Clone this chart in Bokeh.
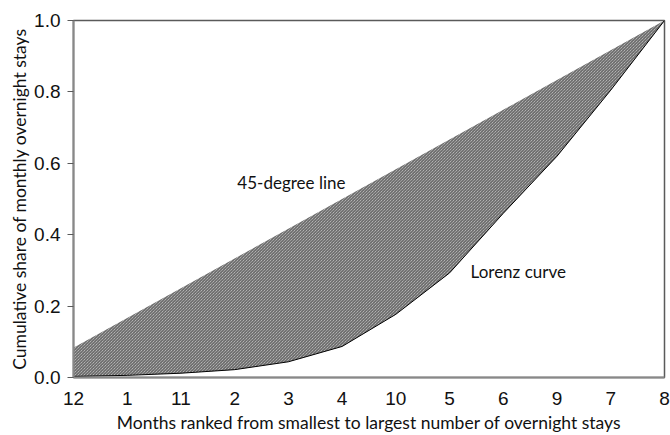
from bokeh.plotting import figure
from bokeh.models import Range1d, FixedTicker, Label, ColumnDataSource
from bokeh.embed import file_html
from bokeh.resources import INLINE

# Data
months = ["12", "1", "11", "2", "3", "4", "10", "5", "6", "9", "7", "8"]
equality = [1/12, 2/12, 3/12, 4/12, 5/12, 6/12, 7/12, 8/12, 9/12, 10/12, 11/12, 12/12]
lorenz = [0.003, 0.006, 0.012, 0.022, 0.044, 0.087, 0.177, 0.293, 0.46, 0.62, 0.805, 1.0]
y_ticks = [0.0, 0.2, 0.4, 0.6, 0.8, 1.0]

pos = list(range(len(months)))
src = ColumnDataSource(dict(x=pos, eq=equality, lz=lorenz))

p = figure(width=670, height=435, output_backend="svg", toolbar_location=None,
           x_range=Range1d(0, len(months) - 1), y_range=Range1d(0, 1),
           min_border_left=73, min_border_right=6, min_border_top=20, min_border_bottom=55)

p.varea(x="x", y1="lz", y2="eq", source=src, fill_color="#d4d4d4",
        hatch_pattern="left_diagonal_line", hatch_color="#404040",
        hatch_scale=3, hatch_weight=0.9)
p.line(x="x", y="lz", source=src, line_color="black", line_width=1)

p.xgrid.visible = False
p.ygrid.visible = False
p.background_fill_color = "white"
p.border_fill_color = "white"
p.outline_line_color = "#5a5a5a"
p.outline_line_width = 1.5

tick_font = "Liberation Sans"
title_font = "Lato"

p.xaxis.ticker = FixedTicker(ticks=pos)
p.xaxis.major_label_overrides = {i: m for i, m in enumerate(months)}
p.xaxis.major_tick_line_color = None
p.xaxis.minor_tick_line_color = None
p.xaxis.major_label_standoff = 8
p.xaxis.axis_label = "Months ranked from smallest to largest number of overnight stays"
p.xaxis.axis_label_standoff = 4

p.yaxis.ticker = FixedTicker(ticks=y_ticks)
p.yaxis.major_label_overrides = {t: f"{t:.1f}" for t in y_ticks}
p.yaxis.major_tick_out = 6
p.yaxis.major_tick_in = 0
p.yaxis.minor_tick_line_color = None
p.yaxis.major_tick_line_color = "#5a5a5a"
p.yaxis.major_label_standoff = 7
p.yaxis.axis_label = "Cumulative share of monthly overnight stays"
p.yaxis.axis_label_standoff = 1

for ax in (p.xaxis, p.yaxis):
    ax.axis_line_color = "#888888"
    ax.axis_line_width = 2
    ax.major_label_text_font = tick_font
    ax.major_label_text_font_size = "19px"
    ax.major_label_text_color = "#111111"
    ax.axis_label_text_font = title_font
    ax.axis_label_text_font_size = "17.5px"
    ax.axis_label_text_font_style = "normal"
    ax.axis_label_text_color = "#111111"

p.add_layout(Label(x=3.05, y=0.545, text="45-degree line", text_font=title_font,
                   text_font_size="17px", text_baseline="middle", text_color="#111111"))
p.add_layout(Label(x=7.39, y=0.296, text="Lorenz curve", text_font=title_font,
                   text_font_size="17px", text_baseline="middle", text_color="#111111"))

open("out.html", "w").write(file_html(p, INLINE))
